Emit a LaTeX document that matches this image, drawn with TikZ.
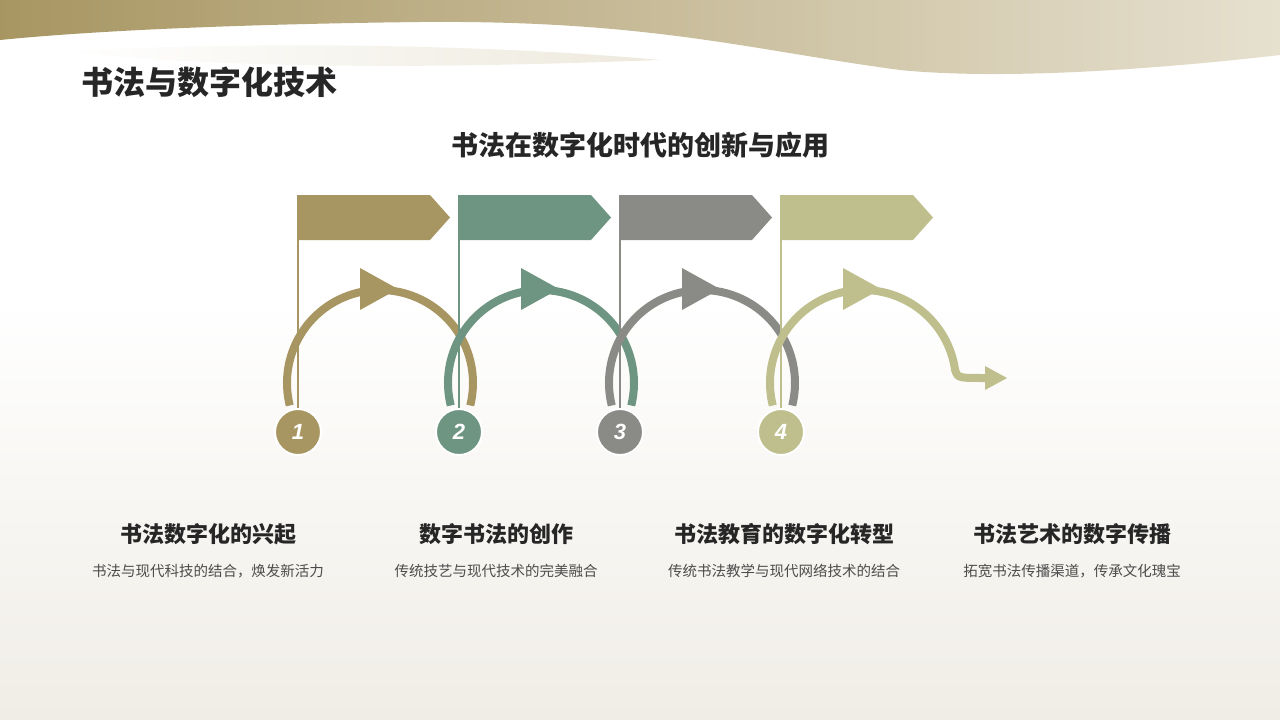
\documentclass[tikz,border=0pt]{standalone}
\usepackage{fontspec}
\setmainfont{Noto Sans CJK SC}
\newfontfamily\numfont{Liberation Sans}
\begin{document}
\begin{tikzpicture}[x=1pt,y=-1pt,
  flagbox/.style={fill=#1,draw=none},
  arcline/.style={draw=#1,line width=8pt},
  numcirc/.style={circle,fill=#1,draw=white,line width=2pt,minimum size=46pt,inner sep=0pt,text=white,font=\numfont\bfseries\itshape\fontsize{22}{22}\selectfont},
  steptitle/.style={font=\bfseries\fontsize{22}{26}\selectfont,text=black!85},
  stepdesc/.style={font=\fontsize{14.5}{21}\selectfont,text=black!70,text width=250pt,align=center,anchor=north}]
\definecolor{cA}{HTML}{A89662}
\definecolor{cB}{HTML}{6E9482}
\definecolor{cC}{HTML}{8A8A86}
\definecolor{cD}{HTML}{BEBF8C}
\definecolor{bandL}{HTML}{A89662}
\definecolor{bandR}{HTML}{E6E0CF}
\definecolor{bgB}{HTML}{F0EDE6}
\useasboundingbox (0,0) rectangle (1280,720);
\shade[top color=white,bottom color=bgB] (0,300) rectangle (1280,720);
% top band
\shade[left color=bandL,right color=bandR]
  (0,0) -- (1280,0) -- (1280,55)
  .. controls (1150,70) and (1000,80) .. (900,70)
  .. controls (750,50) and (650,20) .. (420,22)
  .. controls (250,24) and (100,30) .. (0,40) -- cycle;
\shade[left color=white,right color=bandR!70]
  (60,52) .. controls (250,40) and (500,45) .. (660,60)
  .. controls (450,68) and (250,70) .. (60,52) -- cycle;
\node[anchor=west,font=\bfseries\fontsize{32}{36}\selectfont,text=black!85] (title) at (78,82) {书法与数字化技术};
\node[font=\bfseries\fontsize{27}{32}\selectfont,text=black!85] (sub) at (640,145) {书法在数字化时代的创新与应用};
% flags
\foreach \x/\c/\n in {298/cA/1,459/cB/2,620/cC/3,781/cD/4}{
  \fill[\c] (\x,195) -- (\x+132,195) -- (\x+152,217.5) -- (\x+132,240) -- (\x,240) -- cycle;
}
% arcs
\foreach \x/\c in {380/cA,541/cB,702/cC}{
  \draw[arcline=\c] (\x,383) ++(166:93) arc[start angle=166,end angle=374,radius=93];
  \fill[\c] (\x-20,268) -- (\x+18,289) -- (\x-20,310) -- cycle;
}
\draw[arcline=cD] (863,383) ++(166:93) arc[start angle=166,end angle=352,radius=93]
  .. controls (958,378) .. (985,378);
\fill[cD] (863-20,268) -- (863+18,289) -- (863-20,310) -- cycle;
\fill[cD] (985,366) -- (1007,378) -- (985,390) -- cycle;
% poles and circles
\foreach \x/\c/\n in {298/cA/1,459/cB/2,620/cC/3,781/cD/4}{
  \draw[\c,line width=2pt] (\x,195) -- (\x,410);
  \node[numcirc=\c] (n\n) at (\x,432) {\n};
}
% texts
\node[steptitle] (t1) at (208,534) {书法数字化的兴起};
\node[steptitle] (t2) at (496,534) {数字书法的创作};
\node[steptitle] (t3) at (784,534) {书法教育的数字化转型};
\node[steptitle] (t4) at (1072,534) {书法艺术的数字传播};
\node[stepdesc] (d1) at (208,561) {书法与现代科技的结合，焕发新活力};
\node[stepdesc] (d2) at (496,561) {传统技艺与现代技术的完美融合};
\node[stepdesc] (d3) at (784,561) {传统书法教学与现代网络技术的结合};
\node[stepdesc] (d4) at (1072,561) {拓宽书法传播渠道，传承文化瑰宝};
\end{tikzpicture}
\end{document}
